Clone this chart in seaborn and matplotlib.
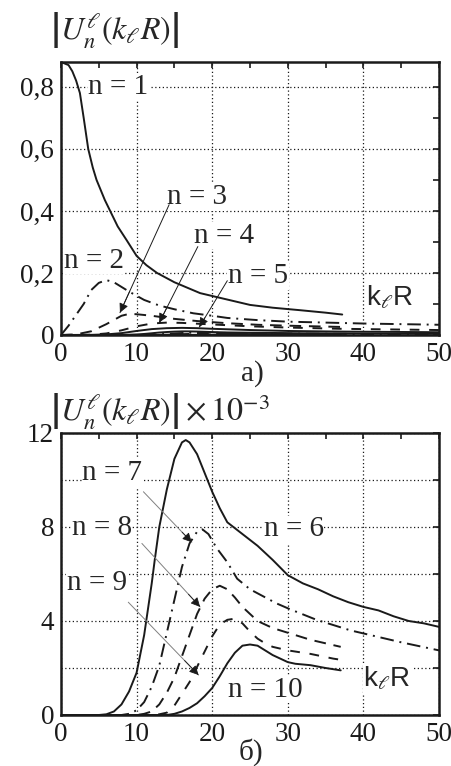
import numpy as np
import pandas as pd
import matplotlib
matplotlib.use('Agg')
import matplotlib.pyplot as plt
from matplotlib import ticker as mticker
import seaborn as sns

# ---- panel a) : |U_n(k R)| for n = 1..5 ----
x1 = [0, 1, 1.5, 2, 2.5, 3, 3.6, 4.2, 4.7, 5.8, 6.5, 7.5, 8.7, 10, 11.3, 12.7, 15, 18.4, 21, 25, 28, 31.6, 35, 37.2]
y1 = [0.88, 0.87, 0.85, 0.82, 0.78, 0.70, 0.60, 0.54, 0.50, 0.435, 0.40, 0.35, 0.305, 0.255, 0.225, 0.20, 0.17, 0.135, 0.12, 0.097, 0.088, 0.08, 0.072, 0.066]

x2 = [0, 1, 2, 3, 4, 5, 6, 7, 8, 9, 11, 13, 15, 17.5, 20, 22, 26, 30, 35, 40, 45, 50]
y2 = [0, 0.03, 0.065, 0.10, 0.145, 0.168, 0.177, 0.17, 0.155, 0.14, 0.113, 0.095, 0.083, 0.07, 0.062, 0.055, 0.048, 0.043, 0.04, 0.037, 0.035, 0.033]

x3 = [0, 2, 4, 6, 8, 9, 10, 12, 15, 18, 22, 26, 30, 37]
y3 = [0, 0.002, 0.012, 0.035, 0.062, 0.068, 0.067, 0.062, 0.052, 0.045, 0.038, 0.033, 0.03, 0.026]

x4 = [0, 4, 6, 8, 10, 12, 14, 16, 20, 25, 30, 37, 50]
y4 = [0, 0.001, 0.005, 0.015, 0.028, 0.037, 0.04, 0.039, 0.034, 0.028, 0.024, 0.02, 0.016]

x5 = [0, 4, 6, 8, 10, 12, 14, 16, 18, 20, 25, 30, 37, 50]
y5 = [0, 0.0005, 0.002, 0.006, 0.013, 0.019, 0.022, 0.023, 0.022, 0.02, 0.016, 0.013, 0.011, 0.009]

# ---- panel б) : |U_n(k R)| x 1e-3 for n = 6..10 ----
x6 = [0, 5, 6, 7, 8, 9, 10, 11, 12, 12.4, 13, 14, 15, 16, 16.5, 17, 18, 19, 20, 21, 22, 24, 26, 28, 30,
      32, 34, 36, 38, 40, 42, 44, 46, 48, 50]
y6 = [0, 0, 0.03, 0.15, 0.45, 1.0, 1.8, 3.4, 5.6, 6.6, 8.0, 9.6, 10.9, 11.6, 11.7, 11.6, 11.1, 10.3, 9.5, 8.8, 8.2,
      7.7, 7.2, 6.6, 5.95, 5.6, 5.35, 5.05, 4.8, 4.6, 4.45, 4.2, 4.0, 3.9, 3.75]

x7 = [0, 8, 9, 10, 11, 12, 13, 14, 15, 16, 17, 18, 18.7, 19.5, 20.6, 22, 23.3, 25, 28.5, 30.3, 33.8, 38.3, 44.9, 50]
y7 = [0, 0, 0.05, 0.2, 0.55, 1.2, 2.1, 3.5, 4.9, 6.3, 7.3, 7.8, 7.9, 7.7, 7.1, 6.5, 5.8, 5.35, 4.75, 4.5, 4.05, 3.6, 3.1, 2.75]

x8 = [0, 10, 11, 12, 13, 14, 15, 16, 17, 18, 19, 20, 21, 22, 23, 24, 25, 26, 27, 28, 30, 33, 35, 37]
y8 = [0, 0, 0.05, 0.15, 0.45, 0.95, 1.6, 2.5, 3.4, 4.3, 4.95, 5.35, 5.5, 5.35, 5.0, 4.6, 4.3, 4.0, 3.85, 3.7, 3.5, 3.2, 3.05, 2.9]

x9 = [0, 12, 13, 14, 15, 16, 17, 18, 19, 20, 21, 22, 23, 24, 25, 26, 27, 28, 30, 33, 36, 37]
y9 = [0, 0, 0.03, 0.1, 0.4, 0.9, 1.4, 2.05, 2.7, 3.35, 3.85, 4.05, 4.1, 3.9, 3.55, 3.25, 3.05, 2.9, 2.75, 2.6, 2.4, 2.35]

x10 = [0, 14, 15, 16, 17, 18, 19, 20, 21, 22, 23, 24, 25, 26, 27, 28, 29, 30, 31, 33, 35, 37]
y10 = [0, 0, 0.05, 0.15, 0.3, 0.5, 0.8, 1.15, 1.65, 2.2, 2.65, 2.95, 3.0, 2.95, 2.75, 2.55, 2.4, 2.25, 2.18, 2.12, 2.0, 1.9]

xticks = [0, 10, 20, 30, 40, 50]
yticks_a = [0, 0.2, 0.4, 0.6, 0.8]
yticklabels_a = ['0', '0,2', '0,4', '0,6', '0,8']
yticks_b = [0, 4, 8, 12]

SOLID = '-'
DASHDOT = (0, (7, 3, 1, 3))
DASHED = (0, (6, 4))
DASHED2 = (0, (5, 5))


def make_df(curves):
    rows = []
    for n, (xs, ys) in curves.items():
        rows.append(pd.DataFrame({'x': xs, 'y': ys, 'n': n}))
    return pd.concat(rows, ignore_index=True)


def style_axes(ax, ymax, yminor, ygrid_minor):
    ax.set_xlim(0, 50)
    ax.set_ylim(0, ymax)
    ax.xaxis.set_major_locator(mticker.FixedLocator(xticks))
    ax.xaxis.set_minor_locator(mticker.MultipleLocator(5))
    ax.yaxis.set_minor_locator(mticker.MultipleLocator(yminor))
    ax.tick_params(which='both', direction='in', top=True, right=True, length=4, width=1.2,
                   labelsize=19.5, pad=5, colors='k')
    ax.grid(which='major', color='k', linestyle=(0, (1, 2)), linewidth=0.9)
    if ygrid_minor:
        ax.grid(which='minor', axis='y', color='k', linestyle=(0, (1, 2)), linewidth=0.9)
    for s in ax.spines.values():
        s.set_linewidth(1.8)
        s.set_color('k')
    ax.set_xlabel('')
    ax.set_ylabel('')


def draw_curves(ax, df, styles, lw=1.4):
    for n, ls in styles.items():
        sub = df[df['n'] == n]
        sns.lineplot(data=sub, x='x', y='y', ax=ax, color='k', linewidth=lw,
                     linestyle=ls, legend=False, estimator=None, sort=False)


def label(ax, x, y, s, **kw):
    ax.text(x, y, s, fontsize=21, va='center', ha='left',
            bbox=dict(facecolor='white', edgecolor='none', pad=0.5), zorder=5, **kw)


def arrow(ax, tail, head, color='k', lw=0.7):
    # thin shaft, then a short black piece carrying the head
    ax.annotate('', xy=head, xytext=tail,
                arrowprops=dict(arrowstyle='-', color=color, lw=lw, shrinkA=0, shrinkB=0),
                zorder=6)
    near = (tail[0] + 0.8 * (head[0] - tail[0]), tail[1] + 0.8 * (head[1] - tail[1]))
    ax.annotate('', xy=head, xytext=near,
                arrowprops=dict(arrowstyle='-|>', color='k', lw=0.6,
                                mutation_scale=14, shrinkA=0, shrinkB=0),
                zorder=6)


def main():
    sns.set_theme(style='white')
    plt.rcParams['font.family'] = ['Liberation Serif', 'DejaVu Serif']
    plt.rcParams['mathtext.fontset'] = 'stix'

    fig = plt.figure(figsize=(4.51, 7.66), dpi=100)
    ax1 = fig.add_axes([61 / 451, 1 - 335 / 766, 378 / 451, 273 / 766])
    ax2 = fig.add_axes([61 / 451, 1 - 715 / 766, 378 / 451, 282 / 766])

    small = {6: (x6, y6), 7: (x7, y7), 8: (x8, y8), 9: (x9, y9), 10: (x10, y10)}
    big = {1: (x1, y1), 2: (x2, y2), 3: (x3, y3), 4: (x4, y4), 5: (x5, y5)}
    df_a = make_df(big)
    df_b = make_df(small)
    # the n = 6..10 curves in panel a) are the same data scaled by 1e-3
    df_a_small = df_b.copy()
    df_a_small['y'] = df_a_small['y'] * 1e-3

    styles_a = {1: SOLID, 2: DASHDOT, 3: DASHED, 4: DASHED2, 5: SOLID}
    styles_b = {6: SOLID, 7: DASHDOT, 8: DASHED, 9: DASHED2, 10: SOLID}

    # ---- panel a ----
    draw_curves(ax1, df_a_small, styles_b)
    draw_curves(ax1, df_a, styles_a)
    style_axes(ax1, 0.88, 0.1, False)
    ax1.set_yticks(yticks_a)
    ax1.set_yticklabels(yticklabels_a)
    ax1.set_xticklabels([str(t) for t in xticks])

    label(ax1, 3.6, 0.80, 'n = 1')
    label(ax1, 0.4, 0.24, 'n = 2')
    label(ax1, 14.0, 0.445, 'n = 3')
    label(ax1, 17.6, 0.32, 'n = 4')
    label(ax1, 22.1, 0.19, 'n = 5')
    ax1.text(40.3, 0.12, r'k$_{\ell}$R', family='Liberation Sans', fontsize=20, va='center', ha='left',
             bbox=dict(facecolor='white', edgecolor='none', pad=0.5), zorder=5)
    arrow(ax1, (14.3, 0.42), (7.8, 0.072))
    arrow(ax1, (18.1, 0.285), (13.0, 0.04))
    arrow(ax1, (22.0, 0.175), (18.3, 0.026))

    # ---- panel b ----
    draw_curves(ax2, df_b, styles_b)
    style_axes(ax2, 12, 2, True)
    ax2.set_yticks(yticks_b)
    ax2.set_yticklabels([str(t) for t in yticks_b])
    ax2.set_xticklabels([str(t) for t in xticks])

    label(ax2, 2.8, 10.3, 'n = 7')
    label(ax2, 1.4, 7.95, 'n = 8')
    label(ax2, 0.8, 5.6, 'n = 9')
    label(ax2, 26.8, 7.9, 'n = 6')
    label(ax2, 22.1, 1.07, 'n = 10')
    ax2.text(40.0, 1.57, r'k$_{\ell}$R', family='Liberation Sans', fontsize=20, va='center', ha='left',
             bbox=dict(facecolor='white', edgecolor='none', pad=0.5), zorder=5)
    arrow(ax2, (10.9, 9.5), (17.3, 7.35), color='0.5')
    arrow(ax2, (10.7, 7.3), (18.4, 4.6), color='0.5')
    arrow(ax2, (8.9, 4.8), (18.2, 1.7), color='0.5')

    # titles and captions
    fig.text(50 / 451, 1 - 30 / 766, r'$\left|U_n^{\ell}\left(k_{\ell}R\right)\right|$',
             fontsize=23, va='center', ha='left')
    fig.text(50 / 451, 1 - 411 / 766, r'$\left|U_n^{\ell}\left(k_{\ell}R\right)\right|\times10^{-3}$',
             fontsize=23, va='center', ha='left')
    fig.text(252 / 451, 1 - 374 / 766, 'а)', fontsize=21, va='center', ha='center')
    fig.text(251 / 451, 1 - 752 / 766, 'б)', fontsize=21, va='center', ha='center')

    fig.savefig('out.png', dpi=100, facecolor='white')


if __name__ == '__main__':
    main()
